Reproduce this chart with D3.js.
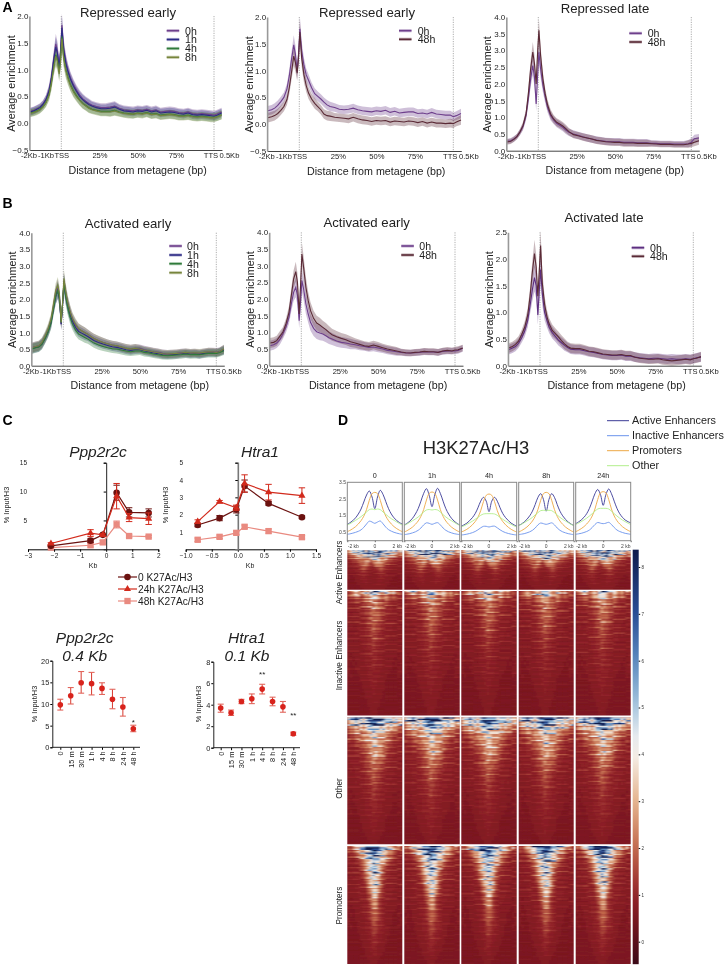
<!DOCTYPE html>
<html><head><meta charset="utf-8">
<script src="https://cdn.jsdelivr.net/npm/d3@7"></script>
<style>
html,body{margin:0;padding:0;background:#fff}
svg{display:block;filter:blur(.3px)}
text{font-family:"Liberation Sans",Arial,sans-serif;fill:#222}
.axis text{fill:#222}
</style></head><body>
<svg id="c" width="727" height="977"></svg>
<script>
// ---------- metagene data ----------
const metaX=[-20.5,-18,-16,-14,-12,-10,-8,-6.5,-5,-3.6,-2.5,-1.4,-0.5,0.4,1.5,3,4.5,6,8,10,12,14,16,18,20,23,26,29,32,35,38,41,44,47,50,53,56,59,62,65,68,71,74,77,80,83,86,89,92,95,98,100,102,105];
const metaTickValues=[-21.5,-10.3,0,25,50,75,97.7,109.8];
const metaTickLabels=["-2Kb","-1Kb","TSS","25%","50%","75%","TTS","0.5Kb"];
const a1_0h=[.22,.24,.27,.30,.36,.45,.62,.85,1.2,1.48,1.35,1.05,1.35,1.83,1.42,1.15,.98,.85,.72,.62,.53,.46,.41,.37,.34,.31,.29,.29,.30,.32,.28,.25,.24,.23,.25,.24,.26,.23,.25,.21,.22,.23,.22,.20,.19,.21,.18,.17,.18,.17,.16,.15,.17,.21];
const a1_1h=[.21,.23,.26,.29,.35,.44,.60,.83,1.17,1.42,1.30,1.02,1.32,1.78,1.38,1.11,.95,.82,.69,.59,.50,.44,.39,.35,.32,.29,.27,.27,.28,.30,.26,.23,.22,.21,.23,.22,.24,.21,.23,.19,.20,.21,.20,.18,.17,.19,.16,.15,.16,.15,.14,.13,.15,.19];
const a1_4h=[.19,.21,.23,.26,.31,.39,.54,.76,1.05,1.28,1.18,.95,1.18,1.62,1.25,1.0,.85,.72,.60,.51,.43,.37,.33,.29,.26,.24,.22,.22,.22,.24,.21,.19,.18,.17,.19,.18,.20,.17,.18,.15,.16,.17,.16,.14,.14,.15,.13,.12,.13,.12,.11,.11,.12,.16];
const a1_8h=[.18,.20,.22,.25,.30,.38,.52,.74,1.02,1.25,1.15,.92,1.15,1.58,1.22,.97,.82,.70,.58,.49,.42,.36,.32,.28,.25,.23,.21,.21,.21,.23,.20,.18,.17,.17,.18,.17,.19,.16,.17,.14,.15,.16,.15,.13,.13,.14,.12,.11,.12,.11,.10,.10,.12,.15];
const a1_err=[.07,.07,.07,.07,.07,.08,.1,.13,.14,.19,.17,.14,.17,.22,.17,.14,.12,.11,.1,.09,.09,.09,.09,.09,.08,.08,.08,.08,.09,.09,.08,.08,.08,.08,.08,.08,.08,.08,.08,.08,.08,.08,.08,.08,.08,.08,.08,.08,.08,.08,.08,.08,.08,.08];
const a2_0h=[.25,.27,.30,.35,.42,.50,.66,.90,1.22,1.48,1.30,.98,1.30,1.78,1.38,1.10,.92,.82,.68,.57,.52,.47,.41,.36,.33,.31,.28,.27,.28,.30,.27,.25,.24,.23,.25,.24,.26,.22,.24,.21,.22,.23,.23,.20,.21,.19,.22,.19,.18,.17,.17,.14,.16,.20];
const a2_48h=[.12,.14,.16,.20,.26,.33,.46,.68,.98,1.27,1.15,.95,1.25,1.72,1.25,.92,.72,.58,.47,.39,.33,.27,.19,.16,.15,.13,.12,.11,.10,.13,.10,.08,.07,.05,.07,.06,.07,.04,.06,.05,.04,.06,.05,.03,.05,.02,.04,.02,.02,.01,.02,.01,.04,.08];
const a2_err=[.09,.09,.09,.09,.09,.09,.1,.12,.14,.18,.17,.14,.17,.22,.17,.14,.12,.11,.1,.1,.09,.09,.09,.09,.09,.08,.08,.08,.08,.08,.08,.08,.08,.08,.08,.08,.08,.08,.08,.08,.08,.08,.08,.08,.08,.08,.08,.08,.08,.08,.08,.08,.08,.09];
const a3_0h=[.28,.30,.35,.42,.55,.72,1.05,1.55,2.15,2.55,2.2,1.4,2.2,2.95,2.45,1.95,1.6,1.3,1.05,.92,.82,.76,.70,.62,.55,.50,.46,.42,.38,.35,.32,.30,.28,.27,.27,.27,.25,.25,.25,.24,.24,.24,.22,.22,.21,.21,.21,.20,.20,.20,.21,.25,.36,.38];
const a3_48h=[.26,.28,.34,.42,.56,.75,1.10,1.70,2.45,2.95,2.6,2.0,2.9,3.6,2.85,2.15,1.7,1.38,1.1,.95,.85,.80,.74,.66,.57,.48,.45,.41,.38,.35,.31,.29,.27,.26,.25,.25,.23,.23,.23,.22,.22,.22,.21,.20,.19,.19,.19,.18,.18,.18,.20,.22,.25,.30];
const a3_err=[.08,.08,.08,.08,.09,.11,.14,.18,.24,.3,.27,.21,.27,.34,.27,.2,.17,.15,.14,.12,.12,.12,.12,.12,.11,.11,.11,.11,.11,.11,.11,.11,.11,.11,.11,.11,.11,.11,.11,.11,.11,.11,.09,.09,.09,.09,.09,.09,.09,.09,.11,.12,.12,.12];
const b1_0h=[.55,.58,.60,.68,.85,1.05,1.35,1.75,2.15,2.35,2.1,1.25,1.85,2.55,2.2,1.85,1.6,1.4,1.22,1.1,1.05,1.0,.95,.88,.82,.75,.70,.66,.62,.60,.56,.52,.50,.52,.52,.48,.45,.42,.40,.37,.35,.36,.37,.39,.40,.38,.39,.37,.40,.42,.42,.41,.43,.50];
const b1_1h=[.52,.55,.57,.65,.82,1.02,1.30,1.70,2.08,2.25,2.0,1.25,1.82,2.48,2.12,1.78,1.52,1.33,1.15,1.03,.98,.93,.88,.82,.76,.70,.65,.61,.57,.55,.52,.48,.46,.48,.48,.44,.41,.38,.36,.33,.32,.33,.34,.36,.37,.35,.36,.34,.37,.39,.39,.38,.41,.47];
const b1_4h=[.50,.54,.56,.64,.80,1.0,1.28,1.68,2.08,2.28,2.02,1.3,1.85,2.5,2.1,1.72,1.45,1.25,1.07,.95,.90,.85,.80,.74,.68,.62,.58,.54,.51,.50,.47,.44,.42,.44,.44,.40,.38,.35,.33,.31,.30,.31,.32,.33,.35,.33,.34,.33,.35,.37,.37,.37,.39,.45];
const b1_8h=[.54,.58,.60,.70,.88,1.1,1.4,1.82,2.25,2.42,2.15,1.3,1.9,2.62,2.25,1.88,1.62,1.42,1.25,1.12,1.05,1.0,.95,.88,.82,.76,.70,.66,.62,.60,.56,.52,.50,.52,.50,.46,.44,.41,.39,.36,.35,.36,.37,.38,.40,.38,.39,.38,.40,.42,.41,.40,.42,.50];
const b1_err=[.15,.15,.15,.15,.15,.16,.18,.2,.23,.25,.23,.18,.23,.27,.25,.22,.2,.18,.17,.16,.16,.16,.14,.14,.14,.14,.14,.13,.13,.13,.13,.13,.13,.13,.12,.12,.12,.12,.12,.12,.12,.12,.12,.12,.12,.12,.12,.12,.12,.12,.12,.12,.12,.13];
const b2_0h=[.60,.63,.68,.78,.95,1.15,1.45,1.85,2.2,2.35,2.1,1.35,1.9,2.55,2.3,1.85,1.55,1.3,1.12,1.02,.98,.95,.90,.84,.80,.74,.70,.68,.65,.63,.60,.58,.55,.56,.53,.50,.46,.44,.42,.40,.38,.38,.39,.40,.42,.41,.41,.40,.43,.44,.44,.44,.46,.52];
const b2_48h=[.68,.70,.75,.88,1.0,1.25,1.6,2.1,2.6,2.82,2.5,1.55,2.4,3.35,2.95,2.35,1.95,1.65,1.42,1.28,1.22,1.15,1.08,1.0,.93,.87,.82,.78,.72,.68,.64,.60,.58,.62,.58,.54,.50,.47,.44,.41,.39,.38,.40,.41,.43,.42,.42,.40,.44,.46,.44,.47,.48,.53];
const b2_err=[.15,.15,.15,.15,.15,.16,.19,.22,.26,.3,.28,.23,.28,.34,.33,.3,.26,.25,.23,.22,.22,.2,.2,.19,.18,.17,.16,.16,.16,.14,.14,.13,.13,.13,.13,.12,.12,.12,.12,.1,.1,.1,.1,.1,.1,.1,.1,.1,.1,.1,.1,.1,.1,.1];
const b3_0h=[.30,.33,.36,.42,.52,.65,.85,1.12,1.42,1.65,1.5,.95,1.4,1.8,1.35,1.0,.85,.72,.62,.55,.48,.43,.38,.34,.31,.30,.30,.28,.26,.25,.23,.21,.20,.19,.19,.20,.18,.18,.16,.15,.14,.13,.14,.14,.13,.12,.13,.12,.12,.13,.12,.13,.15,.16];
const b3_48h=[.33,.36,.40,.46,.58,.72,.95,1.3,1.75,2.1,1.85,1.3,1.75,2.25,1.55,1.15,.92,.78,.66,.60,.54,.47,.41,.36,.33,.32,.32,.30,.27,.26,.24,.22,.21,.20,.20,.21,.19,.19,.16,.14,.13,.12,.12,.13,.11,.10,.09,.10,.11,.12,.11,.13,.14,.17];
const b3_err=[.09,.09,.09,.09,.09,.11,.13,.15,.21,.26,.24,.18,.24,.28,.22,.15,.13,.11,.11,.1,.1,.1,.1,.09,.09,.09,.09,.09,.09,.09,.09,.09,.09,.09,.09,.09,.09,.09,.09,.09,.09,.09,.09,.09,.09,.09,.09,.09,.09,.09,.09,.09,.09,.09];

// ---------- ChIP line plots ----------
const c1X=[-2.12,-0.6,-0.13,0.4,0.88,1.63];
const c1_0=[.6,1.5,2.5,9.8,6.4,6.3], c1_0e=[.1,.3,.2,1.3,.8,.7];
const c1_24=[1.0,2.8,2.5,9.2,5.5,5.3], c1_24e=[.15,.6,.2,2.2,.7,1.0];
const c1_48=[.3,.7,1.2,4.3,2.3,2.2], c1_48e=[.1,.3,.3,.6,.2,.2];
const c2X=[-.77,-.35,-.03,.13,.59,1.23];
const c2_0=[1.4,1.8,2.3,3.65,2.65,1.85], c2_0e=[.1,.15,.2,.35,.1,.08];
const c2_24=[1.6,2.75,2.4,3.8,3.3,3.1], c2_24e=[.1,.07,.15,.5,.45,.45];
const c2_48=[.55,.72,.95,1.3,1.05,.7], c2_48e=[.1,.1,.1,.1,.12,.1];
const chipSeries=["0 K27Ac/H3","24h K27Ac/H3","48h K27Ac/H3"];
const timeCats=["0","15 m","30 m","1 h","4 h","8 h","24 h","48 h"];
const c3V=[9.8,11.9,14.9,14.7,13.6,11.1,9.3,4.3], c3Lo=[8.6,10,12.5,12.1,12.2,8.9,7.2,3.6], c3Hi=[11.1,13.8,17.5,17.3,14.9,13.4,11.5,5.1];
const c4V=[3.7,3.25,4.3,4.55,5.45,4.3,3.8,1.3], c4Lo=[3.3,3.0,4.1,4.1,5.0,3.9,3.3,1.15], c4Hi=[4.05,3.5,4.5,5.0,5.9,4.7,4.3,1.45];

// ---------- H3K27Ac profiles ----------
const profX=[-2,-1.8,-1.6,-1.4,-1.2,-1,-.8,-.6,-.4,-.2,0,.2,.4,.6,.8,1,1.2,1.4,1.6,1.8,2];
const timeLabels=["0","1h","4h","8h","24h"];
const classNames=["Active Enhancers","Inactive Enhancers","Promoters","Other"];
const activeT=[
[.96,1.06,1.18,1.35,1.58,1.88,2.3,2.72,2.96,2.6,1.9,2.6,3.0,2.75,2.32,1.9,1.58,1.35,1.18,1.06,.98],
[.92,1.02,1.15,1.33,1.58,1.9,2.35,2.82,3.1,2.7,2.02,2.72,3.12,2.82,2.35,1.9,1.58,1.33,1.15,1.02,.92],
[.85,.93,1.03,1.18,1.36,1.6,1.95,2.35,2.58,2.35,1.72,2.35,2.58,2.35,1.95,1.6,1.36,1.18,1.03,.93,.85],
[.9,.98,1.1,1.26,1.47,1.75,2.15,2.58,2.8,2.45,1.75,2.45,2.8,2.58,2.15,1.75,1.47,1.26,1.1,.98,.9],
[1.0,1.1,1.22,1.38,1.6,1.92,2.35,2.8,3.05,2.75,2.1,2.75,3.08,2.8,2.35,1.92,1.6,1.38,1.22,1.12,1.05]];
const inactiveT=[
[.36,.39,.43,.48,.54,.63,.78,.98,1.15,1.1,1.02,1.1,1.16,.99,.79,.64,.55,.48,.43,.39,.36],
[.34,.37,.4,.45,.51,.6,.74,.93,1.05,1.02,.96,1.02,1.06,.93,.74,.6,.51,.45,.4,.37,.34],
[.32,.34,.37,.41,.46,.53,.63,.75,.84,.84,.8,.84,.85,.75,.63,.53,.46,.41,.37,.34,.32],
[.34,.37,.4,.45,.51,.6,.74,.93,1.04,1.0,.96,1.0,1.05,.93,.74,.6,.51,.45,.4,.37,.34],
[.36,.39,.42,.47,.53,.62,.77,.95,1.07,1.03,1.0,1.03,1.08,.95,.77,.62,.53,.47,.42,.39,.36]];
const promoterT=[
[.52,.6,.7,.82,.98,1.18,1.45,1.85,2.4,2.8,2.88,2.8,2.4,1.85,1.45,1.18,.98,.82,.7,.6,.52],
[.5,.58,.68,.8,.96,1.16,1.44,1.85,2.42,2.82,2.9,2.82,2.42,1.85,1.44,1.16,.96,.8,.68,.58,.5],
[.5,.57,.66,.78,.93,1.12,1.38,1.78,2.32,2.7,2.78,2.7,2.32,1.78,1.38,1.12,.93,.78,.66,.57,.5],
[.5,.58,.68,.8,.96,1.16,1.44,1.85,2.4,2.8,2.88,2.8,2.4,1.85,1.44,1.16,.96,.8,.68,.58,.5],
[.52,.6,.7,.82,.98,1.18,1.46,1.88,2.45,2.85,2.92,2.85,2.45,1.88,1.46,1.18,.98,.82,.7,.6,.52]];
const otherT=[
[.92,1.0,1.1,1.2,1.3,1.42,1.56,1.7,1.84,1.88,1.84,1.88,1.84,1.7,1.56,1.42,1.3,1.2,1.1,1.0,.92],
[.9,.98,1.08,1.18,1.28,1.4,1.54,1.7,1.82,1.85,1.82,1.85,1.82,1.7,1.54,1.4,1.28,1.18,1.08,.98,.9],
[.8,.87,.96,1.05,1.15,1.26,1.38,1.5,1.58,1.6,1.6,1.6,1.58,1.5,1.38,1.26,1.15,1.05,.96,.87,.8],
[.88,.96,1.06,1.16,1.26,1.38,1.52,1.66,1.78,1.8,1.8,1.8,1.78,1.66,1.52,1.38,1.26,1.16,1.06,.96,.88],
[.95,1.03,1.12,1.22,1.33,1.46,1.6,1.75,1.88,1.92,1.92,1.92,1.88,1.75,1.6,1.46,1.33,1.22,1.12,1.03,.95]];

// ---------- heatmaps: one digit per cell, read as heatLevels below ----------
const heatLevels=[.55,.72,.85,1.02,1.35,1.8,2.5,3.5,5,7];
const heatGain=[1,1.02,.96,.98,1.03];
const heatRowLabels=["Active Enhancers","Inactive Enhancers","Other","Promoters"];
const stripes=[.2,-.2,.1,1,-.3,.1,-.1,.3,-.4,.2,1.6,-.2,.3,-.3,.1,.7,-.4,0,-.2,1.2,-.1,.2,-.5,.4,-.1,.9,-.3,.1,-.2,1.5,-.3,.2,-.4,.3,.5,-.2,-.5,.8,.1,-.3,.2,1.3,-.2,-.4,.3,0,.6,-.3,.1,-.1,1.1,-.5,.2];
const heatActive=[
"6787889798879988787867","5677878898989878877656","4556767787789777666545","3445566667887667554433",
"2344555664667665443322","2233455653566654433222","1223345543355543322211","1122345432234543221111",
"1112234322223432211111","1111233321123332111111","1011223211112322111001","1001122211112221110001",
"0001112211112211100000","0000111211112111100000","0000011111111111000000","0000001111111110000000"];
const heatInactive=[
"4567656768887667656454","3445545667776556545433","2334434556665545433322","3223334455565544332232",
"2222333445655443332222","2122233445555443322212","1222223345555433222221","2112222344554432222112",
"1211222344544332221121","1111222334544322221111","1112122334443322212111","1111122233443322211111",
"1111112233433222111111","1111112233433221111111","1111111223332221111111","1011111223332211111101",
"1101111222332211111011","1010111222322211110101","1001111122322211110011","1000111122222111100011",
"0100011122222111000010","0000011112221110000000","0000001112221110000000","0000001111211110000000",
"0000000111211100000000","0000000111111100000000","0000000011111000000000","0000000011111000000000",
"0000000001110000000000","0000000001110000000000"];
const heatOther=[
"7889887899999988887877","6778787889998887787767","5667676788888787676655","4556656677877776655544",
"3445556667776666554433","4334555666776665543343","2334445566776655443322","3223344556666655433232",
"2223334456676654333222","2222233455665554332222","1222233445655543322221","2122223445555443322212",
"1212223344554433222121","1112222344544332222111","1111222334544322221111","1112122334443322212111",
"1111122233443322211111","1011112233433222111101","1101112223433221110011","1011111223332221111101",
"1001111223332211110011","1000111222332211110001","0100111222322211100010","0000011122222111000000",
"0000011112221110000000","0000001112221110000000","0000001111211110000000","0000000111211100000000",
"0000000011111000000000","0000000001110000000000"];
const heatPromoters=[
"5467788999999888776564","4345677889998877665434","2334566788988776554322","3223456778888776543232",
"2223345677877665433222","1222345678887654332221","2122234677887643322212","1212234567877543322121",
"1122223567776543222211","2111223467787532221112","1112222356776532222111","1111222356776432221111",
"1111222245775432221111","1011122245664322211101","1111112235664322111111","1011112234664321111101",
"1001112234554321111001","0101112234554321110010","1001111234554321110001","1000111223543321110001",
"0100111223443321100010","0000111223443221100000","0000011122432211100000","0000011122332211000000",
"0000001112332111000000","0000001112321110000000","0000000112221110000000","0000000111221100000000",
"0000000011111000000000","0000000001110000000000"];
const colorbarTicks=[0,1,2,3,4,5,6,7,8];

// ---------- drawing ----------
const svg=d3.select("#c");
const FONT='"Liberation Sans",Arial,sans-serif';
const C0="#6e3f8c",C1="#2c2a86",C4="#2f7a3a",C8="#77853c",C48="#5a2a36";
function txt(g,x,y,s,size,o={}){
  const t=g.append("text").attr("x",x).attr("y",y).attr("font-size",size).text(s)
    .attr("text-anchor",o.anchor||"middle");
  if(o.italic)t.attr("font-style","italic");
  if(o.bold)t.attr("font-weight","bold");
  if(o.rot)t.attr("transform",`rotate(${o.rot} ${x} ${y})`);
  return t;
}
const metaPanels=[
 {title:"Repressed early",tx:128,ty:17,tss:61.3,tts:214,top:16,bot:150,d:[2.0,-.5],ticks:[-.5,0,.5,1,1.5,2],fmt:".1f",err:a1_err,
  s:[["0h",a1_0h,C0],["1h",a1_1h,C1],["4h",a1_4h,C4],["8h",a1_8h,C8]],lx:166.7,ltx:185,ly:[30.7,39.5,48.5,57.3],yl:15},
 {title:"Repressed early",tx:367,ty:17,tss:299.3,tts:453.3,top:17,bot:151,d:[2.0,-.5],ticks:[-.5,0,.5,1,1.5,2],fmt:".1f",err:a2_err,
  s:[["0h",a2_0h,C0],["48h",a2_48h,C48]],lx:399,ltx:417.7,ly:[30.7,39.3],yl:252.7},
 {title:"Repressed late",tx:605,ty:13,tss:538.3,tts:691.3,top:17,bot:150.7,d:[4,0],ticks:[0,.5,1,1.5,2,2.5,3,3.5,4],fmt:".1f",err:a3_err,
  s:[["0h",a3_0h,C0],["48h",a3_48h,C48]],lx:629.3,ltx:647.7,ly:[33.3,42],yl:491},
 {title:"Activated early",tx:128,ty:228,tss:63.3,tts:216.3,top:232.7,bot:365.7,d:[4,0],ticks:[0,.5,1,1.5,2,2.5,3,3.5,4],fmt:".1f",err:b1_err,
  s:[["0h",b1_0h,C0],["1h",b1_1h,C1],["4h",b1_4h,C4],["8h",b1_8h,C8]],lx:169.3,ltx:187,ly:[246,255,263.7,272.7],yl:16.5},
 {title:"Activated early",tx:366.7,ty:226.7,tss:301.3,tts:455,top:232.3,bot:365.7,d:[4,0],ticks:[0,.5,1,1.5,2,2.5,3,3.5,4],fmt:".1f",err:b2_err,
  s:[["0h",b2_0h,C0],["48h",b2_48h,C48]],lx:401.3,ltx:419.3,ly:[246,255],yl:254},
 {title:"Activated late",tx:604,ty:222,tss:540,tts:693.3,top:232.3,bot:365.7,d:[2.5,0],ticks:[0,.5,1,1.5,2,2.5],fmt:".1f",err:b3_err,
  s:[["0h",b3_0h,"#5d2f80"],["48h",b3_48h,C48]],lx:631.7,ltx:650,ly:[247.7,256.3],yl:492.5}
];
metaPanels.forEach(p=>{
  const x=d3.scaleLinear().domain([0,100]).range([p.tss,p.tts]);
  const xl=x(-20.9),xr=x(105.2);
  const y=d3.scaleLinear().domain([p.d[1],p.d[0]]).range([p.bot,p.top]);
  const g=svg.append("g");
  [0,100].forEach(v=>g.append("line").attr("x1",x(v)).attr("x2",x(v)).attr("y1",p.top).attr("y2",p.bot)
     .attr("stroke","#999").attr("stroke-width",.8).attr("stroke-dasharray","1.2 1.2"));
  p.s.forEach(s=>{
    const area=d3.area().x((d,i)=>x(metaX[i])).y0((d,i)=>y(d-p.err[i])).y1((d,i)=>y(d+p.err[i]));
    g.append("path").attr("d",area(s[1])).attr("fill",s[2]).attr("fill-opacity",.33);
  });
  p.s.forEach(s=>{
    const line=d3.line().x((d,i)=>x(metaX[i])).y(d=>y(d));
    g.append("path").attr("d",line(s[1])).attr("fill","none").attr("stroke",s[2]).attr("stroke-width",1.1);
  });
  const ax=g.append("g").attr("class","axis").attr("transform",`translate(0,${p.bot})`)
    .call(d3.axisBottom(d3.scaleLinear().domain([-20.9,105.2]).range([xl,xr]))
      .tickValues(metaTickValues).tickFormat((d,i)=>metaTickLabels[i]).tickSize(0).tickPadding(3));
  ax.select(".domain").attr("stroke","#444").attr("stroke-width",1);
  ax.selectAll("text").attr("font-size",7.6).attr("font-family",FONT);
  const ay=g.append("g").attr("class","axis").attr("transform",`translate(${xl},0)`)
    .call(d3.axisLeft(y).tickValues(p.ticks).tickFormat(d3.format(p.fmt)).tickSize(0).tickPadding(1));
  ay.select(".domain").attr("stroke","#999").attr("stroke-width",1.6);
  ay.selectAll("text").attr("font-size",8).attr("font-family",FONT);
  txt(g,p.tx,p.ty,p.title,13.2);
  txt(g,(xl+xr)/2+12,p.bot+23.5,"Distance from metagene (bp)",10.7);
  txt(g,p.yl,(p.top+p.bot)/2+.5,"Average enrichment",10.8,{rot:-90});
  p.s.forEach((s,i)=>{
    g.append("line").attr("x1",p.lx).attr("x2",p.lx+12.5).attr("y1",p.ly[i]).attr("y2",p.ly[i])
      .attr("stroke",s[2]).attr("stroke-opacity",.35).attr("stroke-width",3.2);
    g.append("line").attr("x1",p.lx).attr("x2",p.lx+12.5).attr("y1",p.ly[i]).attr("y2",p.ly[i])
      .attr("stroke",s[2]).attr("stroke-width",1.6);
    txt(g,p.ltx,p.ly[i]+3.8,s[0],10.6,{anchor:"start"});
  });
});
[["A",2.5,11.5],["B",2.5,207.7],["C",2.5,425.3],["D",338,425]].forEach(d=>txt(svg,d[1],d[2],d[0],14,{anchor:"start",bold:true}).style("fill","#000"));

// C line panels
const chipColors=["#6b1210","#d22a1c","#e98a80"];
const chipSym=[d3.symbolCircle,d3.symbolTriangle,d3.symbolSquare];
const chipSize=[34,22,40];
const linePanels=[
 {name:"Ppp2r2c",tx:98,x0:-3,x1:2,px0:28,px1:158.3,yMax:15,yt:[5,10,15],xt:[-3,-2,-1,0,1,2],xf:d3.format("d"),X:c1X,
  v:[c1_0,c1_24,c1_48],e:[c1_0e,c1_24e,c1_48e],lab:27,yl:9,kb:93,axisCol:"#222",axisW:1},
 {name:"Htra1",tx:260,x0:-1,x1:1.5,px0:185.7,px1:316,yMax:5,yt:[1,2,3,4,5],xt:[-1,-.5,0,.5,1,1.5],xf:d3.format(".1f"),X:c2X,
  v:[c2_0,c2_24,c2_48],e:[c2_0e,c2_24e,c2_48e],lab:183,yl:168,kb:250,axisCol:"#777",axisW:1.6}
];
linePanels.forEach(p=>{
  const g=svg.append("g");
  const x=d3.scaleLinear().domain([p.x0,p.x1]).range([p.px0,p.px1]);
  const y=d3.scaleLinear().domain([0,p.yMax]).range([549.3,462.7]);
  const ax=g.append("g").attr("transform","translate(0,549.3)").call(d3.axisBottom(x).tickValues(p.xt).tickFormat(p.xf).tickSize(2.5).tickPadding(1.5));
  ax.selectAll("text").attr("font-size",6.5).attr("font-family",FONT);
  const ay=g.append("g").attr("transform",`translate(${x(0)},0)`).call(d3.axisLeft(y).tickValues(p.yt).tickFormat("").tickSize(2.5));
  ay.select(".domain").attr("stroke",p.axisCol).attr("stroke-width",p.axisW);
  const al=g.append("g").attr("transform",`translate(${p.lab},0)`).call(d3.axisLeft(y).tickValues(p.yt).tickFormat(d3.format("d")).tickSize(0).tickPadding(0));
  al.select(".domain").remove();
  al.selectAll("text").attr("font-size",6.5).attr("font-family",FONT);
  [2,0,1].forEach(k=>{
    const col=chipColors[k];
    g.append("path").attr("d",d3.line().x((d,i)=>x(p.X[i])).y(d=>y(d))(p.v[k])).attr("fill","none").attr("stroke",col).attr("stroke-width",1.2);
    p.v[k].forEach((d,i)=>{
      const e=p.e[k][i];
      g.append("line").attr("x1",x(p.X[i])).attr("x2",x(p.X[i])).attr("y1",y(d-e)).attr("y2",y(d+e)).attr("stroke",col).attr("stroke-width",1);
      [d-e,d+e].forEach(v=>g.append("line").attr("x1",x(p.X[i])-3.2).attr("x2",x(p.X[i])+3.2).attr("y1",y(v)).attr("y2",y(v)).attr("stroke",col).attr("stroke-width",1));
      g.append("path").attr("d",d3.symbol(chipSym[k],chipSize[k])()).attr("transform",`translate(${x(p.X[i])},${y(d)})`).attr("fill",col);
    });
  });
  txt(g,p.tx,457,p.name,15.5,{italic:true});
  txt(g,p.yl,505,"% Input/H3",7.4,{rot:-90});
  txt(g,p.kb,568,"Kb",7);
});
const legC=svg.append("g");
chipSeries.forEach((s,i)=>{
  const yy=[577,589,601][i];
  legC.append("line").attr("x1",118).attr("x2",137).attr("y1",yy).attr("y2",yy).attr("stroke",chipColors[i]).attr("stroke-width",1.2);
  legC.append("path").attr("d",d3.symbol(chipSym[i],chipSize[i])()).attr("transform",`translate(127.5,${yy})`).attr("fill",chipColors[i]);
  txt(legC,138,yy+3.5,s,10.2,{anchor:"start"});
});

// C time-course panels
const timePanels=[
 {title:["Ppp2r2c","0.4 Kb"],tx:84.7,yAx:52.3,xEnd:140,px:[60.3,133.3],yMax:20,yt:[0,5,10,15,20],top:660.7,bot:747.3,V:c3V,Lo:c3Lo,Hi:c3Hi,yl:37,
  stars:[["*",7,5.9]]},
 {title:["Htra1","0.1 Kb"],tx:247,yAx:213.3,xEnd:300,px:[220.7,293.3],yMax:8,yt:[0,2,4,6,8],top:661.7,bot:747.7,V:c4V,Lo:c4Lo,Hi:c4Hi,yl:201,
  stars:[["**",4,6.9],["**",7,3.05]]}
];
timePanels.forEach(p=>{
  const g=svg.append("g");
  const x=d3.scalePoint().domain(timeCats).range(p.px);
  const y=d3.scaleLinear().domain([0,p.yMax]).range([p.bot,p.top]);
  const ax=g.append("g").attr("transform",`translate(0,${p.bot})`).call(d3.axisBottom(x).tickSize(2.5));
  ax.select(".domain").remove();
  g.append("line").attr("x1",p.yAx).attr("x2",p.xEnd).attr("y1",p.bot).attr("y2",p.bot).attr("stroke","#222");
  ax.selectAll("text").attr("font-size",7.4).attr("font-family",FONT).attr("text-anchor","end")
    .attr("transform","rotate(-90)").attr("x",-4).attr("y",0).attr("dy",".32em");
  const ay=g.append("g").attr("transform",`translate(${p.yAx},0)`).call(d3.axisLeft(y).tickValues(p.yt).tickSize(2).tickPadding(1));
  ay.select(".domain").attr("stroke","#222");
  ay.selectAll("text").attr("font-size",7.4).attr("font-family",FONT);
  timeCats.forEach((c,i)=>{
    const cx=x(c);
    g.append("line").attr("x1",cx).attr("x2",cx).attr("y1",y(p.Lo[i])).attr("y2",y(p.Hi[i])).attr("stroke","#d8392e").attr("stroke-width",1);
    [p.Lo[i],p.Hi[i]].forEach(v=>g.append("line").attr("x1",cx-3).attr("x2",cx+3).attr("y1",y(v)).attr("y2",y(v)).attr("stroke","#e2665c").attr("stroke-width",1.1));
    g.append("circle").attr("cx",cx).attr("cy",y(p.V[i])).attr("r",2.8).attr("fill","#d8231c");
  });
  p.stars.forEach(s=>txt(g,x(timeCats[s[1]]),y(s[2])+3,s[0],8));
  txt(g,p.tx,642.7,p.title[0],15.5,{italic:true});
  txt(g,p.tx,660.7,p.title[1],15.5,{italic:true});
  txt(g,p.yl,704,"% Input/H3",7.4,{rot:-90});
});

// D title and legend
const D=svg.append("g");
txt(D,476,454,"H3K27Ac/H3",18.4);
const classColors=["#3a3a96","#6b93ec","#eda845","#b2ee8c"];
classNames.forEach((n,i)=>{
  const yy=[420.7,435.7,450.7,465.7][i];
  D.append("line").attr("x1",607).attr("x2",629).attr("y1",yy).attr("y2",yy).attr("stroke",classColors[i]).attr("stroke-width",1);
  txt(D,632,yy+3.5,n,10.8,{anchor:"start"});
});
const colX=[[347.3,402.3],[404.3,459.7],[461.3,516.7],[518.7,573.7],[575.7,630.7]];
const yProf=d3.scaleLinear().domain([.5,3.5]).range([532,482]);
const classData=[activeT,inactiveT,promoterT,otherT];
colX.forEach((cx,t)=>{
  const x=d3.scaleLinear().domain([-2,2]).range(cx);
  const g=D.append("g");
  classData.forEach((m,k)=>{
    g.append("path").attr("d",d3.line().curve(d3.curveCatmullRom).x((d,i)=>x(profX[i])).y(d=>yProf(d))(m[t]))
      .attr("fill","none").attr("stroke",classColors[k]).attr("stroke-width",.9);
  });
  g.append("rect").attr("x",cx[0]).attr("y",482.3).attr("width",cx[1]-cx[0]).attr("height",58.4)
    .attr("fill","none").attr("stroke","#888").attr("stroke-width",1);
  txt(g,(cx[0]+cx[1])/2,477.7,timeLabels[t],7.2);
  txt(g,cx[0]+6,547.5,"-2 kb",5).style("fill","#444");
  txt(g,(cx[0]+cx[1])/2,547.5,"0",5).style("fill","#444");
  txt(g,cx[1]-5,547.5,"2 kb",5).style("fill","#444");
  const bx=g.append("g").attr("transform","translate(0,540.7)").call(d3.axisBottom(x).tickValues([-2,0,2]).tickFormat("").tickSize(1.5));
  bx.select(".domain").remove();
  bx.selectAll("line").attr("stroke","#666");
});
const ayP=D.append("g").attr("transform","translate(347,0)").call(d3.axisLeft(yProf).tickValues([.5,1.5,2.5,3.5]).tickSize(0).tickPadding(1));
ayP.select(".domain").remove();
ayP.selectAll("text").attr("font-size",5).attr("font-family",FONT).style("fill","#444");

// heatmap colour scale
const heatColor=d3.scaleLinear()
 .domain([-.5,0,.5,1,2,3,4,4.5,5,6,7,8.4])
 .range(["#3a0a17","#5a0e1b","#7a1820","#93242a","#c36a4c","#e5b48f","#f5efe9","#e2e9ef","#a8c8de","#5b8abf","#2a4f96","#0e1a4a"])
 .clamp(true);
const defs=svg.append("defs");
const blur=defs.append("filter").attr("id","soft").attr("x","-5%").attr("y","-5%").attr("width","110%").attr("height","110%");
blur.append("feGaussianBlur").attr("stdDeviation","1.1 0.2");
const heatRows=[{m:heatActive,y0:550,y1:589.7,label:heatRowLabels[0],ly:570},
 {m:heatInactive,y0:591,y1:715.5,label:heatRowLabels[1],ly:653},
 {m:heatOther,y0:717.3,y1:844.3,label:heatRowLabels[2],ly:786},
 {m:heatPromoters,y0:846,y1:964,label:heatRowLabels[3],ly:903}];
const hm=svg.append("g");
const SUB=3;
heatRows.forEach((h,hi)=>{
  const nr=h.m.length*SUB, nc=22;
  const yb=d3.scaleBand().domain(d3.range(nr)).range([h.y0,h.y1]);
  colX.forEach((cx,t)=>{
    const xb=d3.scaleBand().domain(d3.range(nc)).range(cx);
    const cid=`cl${hi}_${t}`;
    defs.append("clipPath").attr("id",cid).append("rect").attr("x",cx[0]).attr("y",h.y0).attr("width",cx[1]-cx[0]).attr("height",h.y1-h.y0);
    const outer=hm.append("g").attr("clip-path",`url(#${cid})`);
    const g=outer.append("g").attr("filter","url(#soft)");
    g.append("rect").attr("x",cx[0]-3).attr("y",h.y0-3).attr("width",cx[1]-cx[0]+6).attr("height",h.y1-h.y0+6).attr("fill","#7a1820");
    const cells=[];
    h.m.forEach((row,r)=>{
      const amp=.55*(1.15-r/h.m.length);
      for(let s=0;s<SUB;s++){
        for(let c=0;c<nc;c++){
          const st=stripes[(r*SUB+s+hi*7+t*3+Math.floor(c/5)*11)%stripes.length];
          const base=heatLevels[+(row[c]||0)]*heatGain[t];
          cells.push({r:r*SUB+s,c,v:base*(1+amp*st)});
        }
      }
    });
    g.selectAll("rect.c").data(cells).join("rect").attr("class","c")
      .attr("x",d=>xb(d.c)).attr("y",d=>yb(d.r)).attr("width",xb.bandwidth()+.6).attr("height",yb.bandwidth()+.5)
      .attr("fill",d=>heatColor(d.v));
  });
  txt(svg,342,h.ly+2.5,h.label,8.2,{rot:-90});
});
// colour bar
const cbY=d3.scaleLinear().domain([0,8]).range([941.7,567]);
const cbGrad=defs.append("linearGradient").attr("id","cb").attr("x1",0).attr("x2",0).attr("y1",1).attr("y2",0);
const cbLo=-.48,cbHi=8.37;
d3.range(0,21).forEach(i=>{const v=cbLo+(cbHi-cbLo)*i/20;
  cbGrad.append("stop").attr("offset",(i*5)+"%").attr("stop-color",heatColor(v));});
svg.append("rect").attr("x",632.7).attr("width",6).attr("y",cbY(cbHi)).attr("height",cbY(cbLo)-cbY(cbHi)).attr("fill","url(#cb)");
const cbAx=svg.append("g").attr("transform","translate(638.7,0)").call(d3.axisRight(cbY).tickValues(colorbarTicks).tickSize(1.5).tickPadding(1.2));
cbAx.select(".domain").remove();
cbAx.selectAll("text").attr("font-size",4.5).attr("font-family",FONT).style("fill","#333");
</script>
</body></html>
